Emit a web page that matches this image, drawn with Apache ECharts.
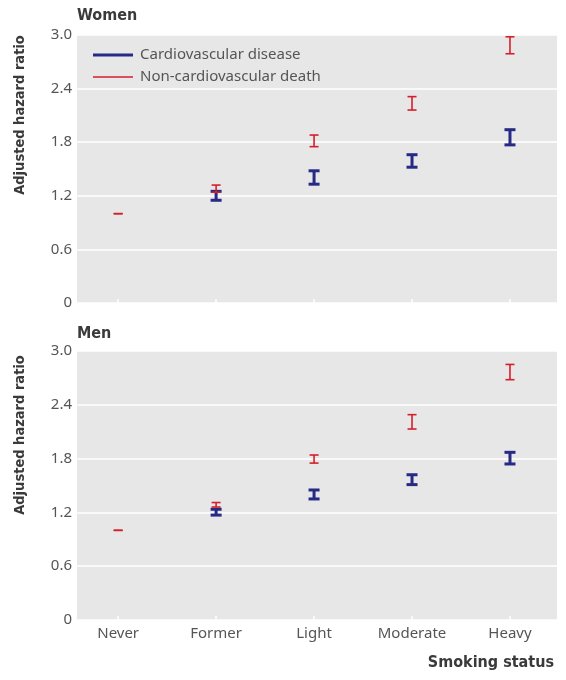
<!DOCTYPE html>
<html>
<head>
<meta charset="utf-8">
<script src="https://cdn.jsdelivr.net/npm/echarts@6/dist/echarts.min.js"></script>
<style>html,body{margin:0;padding:0;background:#fff}#c{width:566px;height:680px}</style>
</head>
<body>
<div id="c"></div>
<script>
const categories = ['Never', 'Former', 'Light', 'Moderate', 'Heavy'];
const yTicks = [0, 0.6, 1.2, 1.8, 2.4, 3.0];
// Confidence intervals (lower / upper) of adjusted hazard ratios
const womenCvdLow  = [null, 1.15, 1.33, 1.52, 1.77];
const womenCvdHigh = [null, 1.25, 1.48, 1.66, 1.94];
const womenNonLow  = [1.0, 1.24, 1.75, 2.16, 2.79];
const womenNonHigh = [1.0, 1.32, 1.88, 2.31, 2.98];
const menCvdLow    = [null, 1.17, 1.35, 1.51, 1.74];
const menCvdHigh   = [null, 1.235, 1.45, 1.62, 1.87];
const menNonLow    = [1.0, 1.26, 1.75, 2.13, 2.68];
const menNonHigh   = [1.0, 1.31, 1.84, 2.29, 2.85];

const BLUE = '#262a84';
const RED = '#d51f2b';
const TXT = '#555555';
const HEAD = '#3a3a3a';
const SANS = 'Noto Sans';
const BOLD = 'DejaVu Sans Condensed';

function build(lo, hi) {
  return categories.map((c, i) => [i, lo[i] == null ? NaN : lo[i], hi[i] == null ? NaN : hi[i]]);
}

function makeRender(capHalf, lw, color) {
  return function (params, api) {
    const x = api.value(0), lo = api.value(1), hi = api.value(2);
    if (isNaN(lo) || isNaN(hi)) return;
    const pLo = api.coord([x, lo]);
    const pHi = api.coord([x, hi]);
    const style = { stroke: color, lineWidth: lw };
    return {
      type: 'group',
      children: [
        { type: 'line', shape: { x1: pLo[0], y1: pLo[1], x2: pHi[0], y2: pHi[1] }, style },
        { type: 'line', shape: { x1: pLo[0] - capHalf, y1: pLo[1], x2: pLo[0] + capHalf, y2: pLo[1] }, style },
        { type: 'line', shape: { x1: pHi[0] - capHalf, y1: pHi[1], x2: pHi[0] + capHalf, y2: pHi[1] }, style }
      ]
    };
  };
}

function xAxis(gridIndex, showLabels) {
  return {
    type: 'value', gridIndex, min: -0.42, max: 4.48,
    axisLine: { show: false },
    splitLine: { show: false },
    axisTick: { show: true, inside: true, length: 4, customValues: [0, 1, 2, 3, 4], lineStyle: { color: '#ffffff', width: 1.5 } },
    axisLabel: {
      show: showLabels, customValues: [0, 1, 2, 3, 4],
      formatter: v => categories[Math.round(v)] || '',
      color: TXT, fontFamily: SANS, fontSize: 15, margin: 6
    }
  };
}

function yAxis(gridIndex) {
  return {
    type: 'value', gridIndex, min: 0, max: 3.0, interval: 0.6,
    axisLine: { show: false },
    axisTick: { show: false },
    splitLine: { show: true, lineStyle: { color: '#ffffff', width: 1.5 } },
    axisLabel: {
      color: TXT, fontFamily: SANS, fontSize: 15, margin: 5,
      formatter: v => (Math.abs(v) < 1e-9 ? '0' : v.toFixed(1))
    }
  };
}

const chart = echarts.init(document.getElementById('c'));
chart.setOption({
  animation: false,
  backgroundColor: '#ffffff',
  grid: [
    { left: 77, top: 35, width: 480, height: 268, show: true, backgroundColor: '#e7e7e7', borderWidth: 0 },
    { left: 77, top: 351, width: 480, height: 269, show: true, backgroundColor: '#e7e7e7', borderWidth: 0 }
  ],
  xAxis: [xAxis(0, false), xAxis(1, true)],
  yAxis: [yAxis(0), yAxis(1)],
  legend: [
    {
      data: ['Cardiovascular disease'], left: 88, top: 40, orient: 'vertical',
      icon: 'rect', itemWidth: 40, itemHeight: 3, itemGap: 0, selectedMode: false,
      textStyle: { color: TXT, fontFamily: SANS, fontSize: 15, lineHeight: 20, padding: [0, 0, 0, 2] }
    },
    {
      data: ['Non-cardiovascular death'], left: 88, top: 62, orient: 'vertical',
      icon: 'rect', itemWidth: 40, itemHeight: 1.5, itemGap: 0, selectedMode: false,
      textStyle: { color: TXT, fontFamily: SANS, fontSize: 15, lineHeight: 20, padding: [0, 0, 0, 2] }
    }
  ],
  graphic: [
    { type: 'text', left: 77, top: 8, style: { text: 'Women', font: 'bold 16px "' + BOLD + '"', fill: HEAD } },
    { type: 'text', left: 77, top: 326, style: { text: 'Men', font: 'bold 16px "' + BOLD + '"', fill: HEAD } },
    { type: 'text', right: 12, top: 655, style: { text: 'Smoking status', font: 'bold 16px "' + BOLD + '"', fill: HEAD } },
    { type: 'text', x: 20, y: 115, rotation: Math.PI / 2, style: { text: 'Adjusted hazard ratio', font: 'bold 14.5px "' + BOLD + '"', fill: HEAD, align: 'center', verticalAlign: 'middle' } },
    { type: 'text', x: 20, y: 435, rotation: Math.PI / 2, style: { text: 'Adjusted hazard ratio', font: 'bold 14.5px "' + BOLD + '"', fill: HEAD, align: 'center', verticalAlign: 'middle' } }
  ],
  series: [
    { name: 'Cardiovascular disease', type: 'custom', xAxisIndex: 0, yAxisIndex: 0, itemStyle: { color: BLUE },
      renderItem: makeRender(5.5, 3, BLUE), encode: { x: 0, y: [1, 2] }, data: build(womenCvdLow, womenCvdHigh) },
    { name: 'Non-cardiovascular death', type: 'custom', xAxisIndex: 0, yAxisIndex: 0, itemStyle: { color: RED },
      renderItem: makeRender(4.5, 1.6, RED), encode: { x: 0, y: [1, 2] }, data: build(womenNonLow, womenNonHigh) },
    { name: 'Cardiovascular disease', type: 'custom', xAxisIndex: 1, yAxisIndex: 1, itemStyle: { color: BLUE },
      renderItem: makeRender(5.5, 3, BLUE), encode: { x: 0, y: [1, 2] }, data: build(menCvdLow, menCvdHigh) },
    { name: 'Non-cardiovascular death', type: 'custom', xAxisIndex: 1, yAxisIndex: 1, itemStyle: { color: RED },
      renderItem: makeRender(4.5, 1.6, RED), encode: { x: 0, y: [1, 2] }, data: build(menNonLow, menNonHigh) }
  ]
});
</script>
</body>
</html>
